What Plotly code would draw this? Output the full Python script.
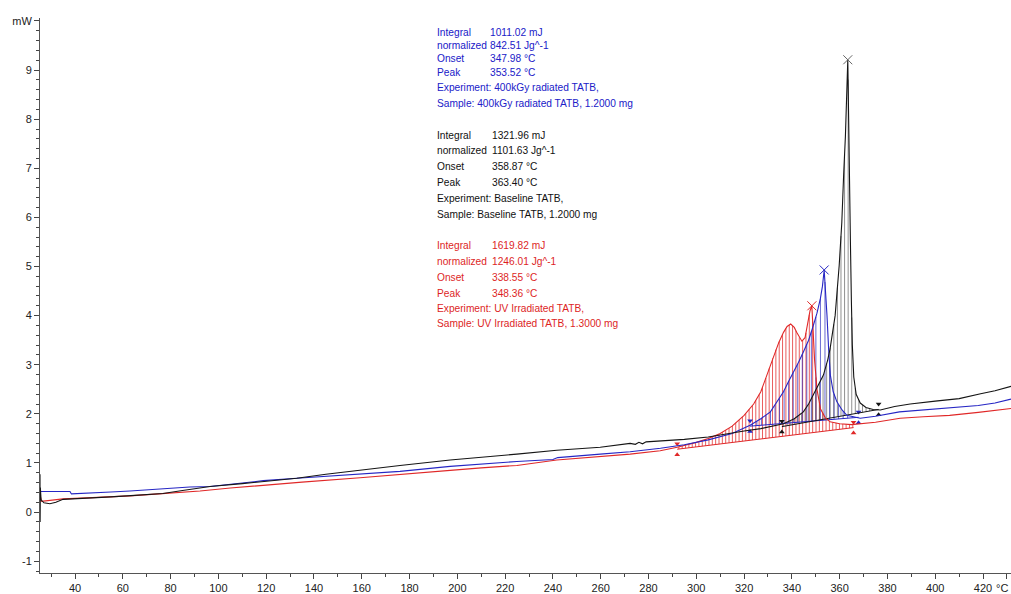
import numpy as np
import plotly.graph_objects as go

# ---- DSC heat-flow curves (temperature in °C, heat flow in mW) ----
# Baseline TATB (black)
t_black = [25.35, 25.4, 25.5, 25.8, 27, 29.5, 32, 35, 45, 55, 65, 76.8, 85, 96.5, 110, 120,
           132.8, 145, 159.3, 176, 197, 210, 224.9, 241.6, 259.8, 272.3, 274.5, 276, 277.5, 279,
           284.9, 295, 305, 313, 320, 327, 336.5, 341, 344.8, 347, 349, 351, 353.2, 355, 356,
           357, 358.1, 359.8, 360.9, 361.7, 362.4, 363.4, 364.0, 364.5, 364.9, 365.3, 365.9,
           366.9, 368.6, 371, 374, 377, 383, 389.5, 400, 410, 419, 425, 431.7]
p_black = [0.77, -0.2, 0.5, 0.25, 0.19, 0.17, 0.2, 0.26, 0.28, 0.31, 0.34, 0.38, 0.44, 0.52, 0.58, 0.63,
           0.69, 0.77, 0.86, 0.95, 1.06, 1.11, 1.18, 1.26, 1.32, 1.40, 1.38, 1.42, 1.39, 1.43,
           1.45, 1.48, 1.53, 1.60, 1.65, 1.70, 1.80, 1.90, 2.04, 2.20, 2.38, 2.58, 2.79, 3.10, 3.33,
           3.65, 4.00, 5.02, 5.90, 6.91, 7.65, 9.21, 7.60, 5.50, 4.30, 3.40, 2.75,
           2.40, 2.22, 2.13, 2.09, 2.08, 2.15, 2.20, 2.26, 2.31, 2.41, 2.47, 2.56]

# 400 kGy radiated TATB (blue)
t_blue = [25.35, 25.5, 30, 37.9, 38.5, 45, 55, 63, 72, 79.8, 88, 96.5, 108, 118.8, 132.8, 145,
          159.3, 176, 197, 210, 224.9, 240, 242, 259.8, 272.3, 285, 295, 305, 315, 322.5, 327,
          331, 334, 336.5, 338.5, 340.7, 342.8, 344.8, 347, 349, 350.5, 351.9, 352.8, 353.52,
          354.1, 354.7, 355.4, 356.1, 357.3, 358.8, 361, 363, 368.6, 375, 385, 395, 406, 418,
          425, 431.7]
p_blue = [0.43, 0.42, 0.42, 0.42, 0.37, 0.38, 0.41, 0.43, 0.46, 0.49, 0.51, 0.52, 0.58, 0.64, 0.69, 0.73,
          0.78, 0.83, 0.93, 0.98, 1.03, 1.07, 1.11, 1.18, 1.23, 1.30, 1.37, 1.47, 1.60, 1.77, 1.90,
          2.04, 2.25, 2.45, 2.65, 2.85, 3.05, 3.26, 3.50, 3.80, 4.05, 4.34, 4.60, 4.93,
          4.50, 4.00, 3.30, 2.79, 2.45, 2.25, 2.08, 1.97, 1.91, 1.95, 2.04, 2.08, 2.11, 2.17,
          2.22, 2.30]

# UV irradiated TATB (red)
t_red = [25.35, 25.4, 25.6, 26, 30, 35, 45, 55, 63, 75, 92.3, 105, 118.8, 135, 159.3, 176, 197,
         210, 224.9, 241.6, 259.8, 272.3, 284.9, 292, 300, 305, 310, 315, 320, 324, 327, 330,
         332.3, 334.5, 336.5, 338, 339.5, 341, 342, 343.2, 344.2, 345.5, 346.5, 347.6, 348.36,
         348.9, 349.5, 350.5, 352, 354, 356, 360, 365, 375, 385.3, 395, 406, 418, 427, 431.7]
p_red = [0.45, 0.25, 0.30, 0.22, 0.24, 0.27, 0.29, 0.31, 0.33, 0.37, 0.43, 0.49, 0.55, 0.61, 0.70, 0.76, 0.85,
         0.90, 0.95, 1.06, 1.13, 1.18, 1.25, 1.32, 1.42, 1.50, 1.60, 1.75, 1.97, 2.20, 2.45, 2.85,
         3.19, 3.45, 3.66, 3.78, 3.83, 3.76, 3.66, 3.55, 3.48, 3.55, 3.80, 4.10, 4.20,
         3.70, 3.10, 2.50, 2.10, 1.92, 1.84, 1.80, 1.78, 1.83, 1.91, 1.94, 1.97, 2.03, 2.08, 2.11]

# Integration baselines (start / end temperature and heat flow)
bl_black_t = [335.8, 376.3]
bl_black_p = [1.74, 2.09]
bl_blue_t = [322.5, 367.9]
bl_blue_p = [1.75, 1.93]
bl_red_t = [292.0, 365.8]
bl_red_p = [1.28, 1.72]

# Evaluation text blocks
blue_labels = ["Integral", "normalized", "Onset", "Peak"]
blue_values = ["1011.02 mJ", "842.51 Jg^-1", "347.98 °C", "353.52 °C"]
blue_info = ["Experiment: 400kGy radiated TATB,", "Sample: 400kGy radiated TATB, 1.2000 mg"]

black_labels = ["Integral", "normalized", "Onset", "Peak"]
black_values = ["1321.96 mJ", "1101.63 Jg^-1", "358.87 °C", "363.40 °C"]
black_info = ["Experiment: Baseline TATB,", "Sample: Baseline TATB, 1.2000 mg"]

red_labels = ["Integral", "normalized", "Onset", "Peak"]
red_values = ["1619.82 mJ", "1246.01 Jg^-1", "338.55 °C", "348.36 °C"]
red_info = ["Experiment: UV Irradiated TATB,", "Sample: UV Irradiated TATB, 1.3000 mg"]

# Axis ticks
x_tickvals = [40, 60, 80, 100, 120, 140, 160, 180, 200, 220, 240, 260, 280, 300, 320, 340,
              360, 380, 400, 420, 430]
x_ticktext = ["40", "60", "80", "100", "120", "140", "160", "180", "200", "220", "240", "260",
              "280", "300", "320", "340", "360", "380", "400", "420", ""]
x_unit = "°C"
y_tickvals = [-1, 0, 1, 2, 3, 4, 5, 6, 7, 8, 9, 10]
y_ticktext = ["-1", "0", "1", "2", "3", "4", "5", "6", "7", "8", "9", "mW"]

BLACK = "#151515"
BLUE = "#2626c4"
RED = "#e02828"

fig = go.Figure()


def hatch(t, p, bt, bp, step):
    """Vertical fill lines between an integration baseline and its curve."""
    xs, ys = [], []
    for x in np.arange(bt[0] + step / 2, bt[1], step):
        top = float(np.interp(x, t, p))
        base = float(np.interp(x, bt, bp))
        if top > base:
            xs += [x, x, None]
            ys += [base, top, None]
    return xs, ys


for t, p, bt, bp, step, col in [
    (t_red, p_red, bl_red_t, bl_red_p, 1.4, "rgba(225,40,40,0.75)"),
    (t_blue, p_blue, bl_blue_t, bl_blue_p, 1.9, "rgba(40,40,190,0.7)"),
    (t_black, p_black, bl_black_t, bl_black_p, 1.5, "rgba(70,70,70,0.6)"),
]:
    hx, hy = hatch(t, p, bt, bp, step)
    fig.add_trace(go.Scatter(x=hx, y=hy, mode="lines", line=dict(color=col, width=1),
                             hoverinfo="skip", showlegend=False))

# Baselines with small end markers
for bt, bp, col in [(bl_red_t, bl_red_p, RED), (bl_blue_t, bl_blue_p, BLUE),
                    (bl_black_t, bl_black_p, BLACK)]:
    fig.add_trace(go.Scatter(x=bt, y=bp, mode="lines", line=dict(color=col, width=1),
                             showlegend=False, hoverinfo="skip"))
    fig.add_trace(go.Scatter(x=bt, y=[v + 0.11 for v in bp], mode="markers",
                             marker=dict(symbol="triangle-down", size=5, color=col),
                             showlegend=False, hoverinfo="skip"))
    fig.add_trace(go.Scatter(x=bt, y=[v - 0.11 for v in bp], mode="markers",
                             marker=dict(symbol="triangle-up", size=5, color=col),
                             showlegend=False, hoverinfo="skip"))

# Curves
for t, p, col, name in [(t_red, p_red, RED, "UV Irradiated TATB"),
                        (t_blue, p_blue, BLUE, "400kGy radiated TATB"),
                        (t_black, p_black, BLACK, "Baseline TATB")]:
    fig.add_trace(go.Scatter(x=t, y=p, mode="lines", line=dict(color=col, width=1.1),
                             name=name, showlegend=False))

# Peak markers at each curve maximum
for t, p, col in [(t_red, p_red, RED), (t_blue, p_blue, BLUE), (t_black, p_black, "#666666")]:
    i = int(np.argmax(p))
    fig.add_trace(go.Scatter(x=[t[i]], y=[p[i]], mode="markers",
                             marker=dict(symbol="x-thin", size=9, line=dict(width=1, color=col)),
                             showlegend=False, hoverinfo="skip"))

# Text blocks (pixel positions converted to paper coordinates)
L, T, W, H = 40, 18, 971, 557


def px(xp):
    return (xp - L) / W


def py(yp):
    return (T + H - yp) / H


FONT = "Liberation Sans, Arial, sans-serif"
annotations = []


def add_block(labels, values, info, color, x_lab, x_val, rows, info_rows, size):
    for lab, val, yr in zip(labels, values, rows):
        annotations.append(dict(x=px(x_lab), y=py(yr), xref="paper", yref="paper", text=lab,
                                showarrow=False, xanchor="left", yanchor="middle",
                                font=dict(family=FONT, size=size, color=color)))
        annotations.append(dict(x=px(x_val), y=py(yr), xref="paper", yref="paper", text=val,
                                showarrow=False, xanchor="left", yanchor="middle",
                                font=dict(family=FONT, size=size, color=color)))
    for line, yr in zip(info, info_rows):
        annotations.append(dict(x=px(x_lab), y=py(yr), xref="paper", yref="paper", text=line,
                                showarrow=False, xanchor="left", yanchor="middle",
                                font=dict(family=FONT, size=size, color=color)))


add_block(blue_labels, blue_values, blue_info, "#2020c8", 435, 488,
          [33, 46, 59, 73], [88, 104], 10.2)
add_block(black_labels, black_values, black_info, "#111111", 435, 490,
          [136, 151, 167, 183], [199, 215], 10.2)
add_block(red_labels, red_values, red_info, "#dd1f1f", 435, 490,
          [246, 262, 278, 294], [310, 325], 10.2)

# Temperature unit beside the last x tick
annotations.append(dict(x=px(1002), y=py(590), xref="paper", yref="paper", text=x_unit,
                        showarrow=False, xanchor="center", yanchor="middle",
                        font=dict(family=FONT, size=11, color="#222222")))

fig.update_layout(
    width=1011, height=594,
    margin=dict(l=L, r=0, t=T, b=594 - T - H),
    paper_bgcolor="white", plot_bgcolor="white",
    annotations=annotations,
    showlegend=False,
    font=dict(family=FONT, size=11, color="#222222"),
)

fig.update_xaxes(
    range=[25.35, 431.7], showgrid=False, zeroline=False,
    showline=True, linecolor="#555555", linewidth=1,
    tickmode="array", tickvals=x_tickvals, ticktext=x_ticktext,
    ticks="outside", ticklen=5, tickcolor="#444444", tickwidth=1,
    minor=dict(tickmode="linear", tick0=30, dtick=20, ticks="outside", ticklen=3,
               tickcolor="#444444"),
    tickfont=dict(family=FONT, size=11, color="#222222"),
)
fig.update_yaxes(
    range=[-1.24, 10.06], showgrid=False, zeroline=False,
    showline=True, linecolor="#555555", linewidth=1,
    tickmode="array", tickvals=y_tickvals, ticktext=y_ticktext,
    ticks="outside", ticklen=5, tickcolor="#444444", tickwidth=1,
    minor=dict(tickmode="linear", tick0=0, dtick=0.2, ticks="outside", ticklen=3,
               tickcolor="#444444"),
    tickfont=dict(family=FONT, size=11, color="#222222"),
)

fig.write_html("out.html")
